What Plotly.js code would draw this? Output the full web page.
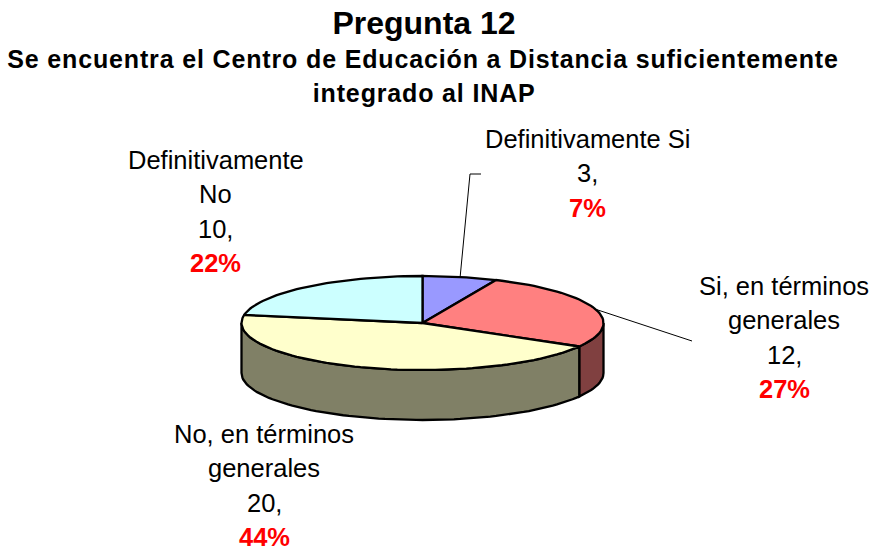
<!DOCTYPE html>
<html><head><meta charset="utf-8">
<script src="https://cdn.plot.ly/plotly-3.0.1.min.js"></script>
<style>html,body{margin:0;padding:0;background:#fff}</style></head>
<body><div id="chart" style="width:874px;height:552px"></div>
<script>
const categories = ["Definitivamente Si", "Si, en términos generales", "No, en términos generales", "Definitivamente No"];
const values = [3, 12, 20, 10];
const topColors = ["#9999FF", "#FF8080", "#FFFFCC", "#CCFFFF"];
const sideColors = ["#4D4D80", "#804040", "#808066", "#668080"];
const labelLines = [["Definitivamente Si"], ["Si, en términos", "generales"], ["No, en términos", "generales"], ["Definitivamente", "No"]];
const labelCenterX = [587.5, 784, 264, 215.5];
const labelFirstY = [139, 286, 434, 160];
const titleText = "Pregunta 12";
const subtitleLines = ["Se encuentra el Centro de Educación a Distancia suficientemente", "integrado al INAP"];

const cx = 422.5, cy = 323, rx = 181, ry = 47, depth = 50, lineStep = 34.4;
const total = values.reduce((a, b) => a + b, 0);
const pt = (deg, dy = 0) => {
  const r = deg * Math.PI / 180;
  return [cx + rx * Math.sin(r), cy - ry * Math.cos(r) + dy];
};
const arc = (a, b, dy = 0) => {
  const out = [];
  const n = Math.max(2, Math.ceil(Math.abs(b - a) / 2));
  for (let i = 0; i <= n; i++) out.push(pt(a + (b - a) * i / n, dy));
  return out;
};
const poly = (pts, fill) => ({
  type: "scatter", mode: "lines", x: pts.map(p => p[0]), y: pts.map(p => p[1]),
  fill: "toself", fillcolor: fill, line: { color: "#000", width: 2.3 }, hoverinfo: "skip", showlegend: false
});
const leader = (pts) => ({
  type: "scatter", mode: "lines", x: pts.map(p => p[0]), y: pts.map(p => p[1]),
  line: { color: "#000", width: 1 }, hoverinfo: "skip", showlegend: false
});

const traces = [];
let acc = 0;
const spans = values.map(v => { const s = [acc, acc + v / total * 360]; acc = s[1]; return s; });
spans.forEach((s, i) => {
  const a = Math.max(s[0], 90), b = Math.min(s[1], 270);
  if (b > a) {
    const outer = arc(a, b), lower = arc(b, a, depth);
    traces.push(poly([...outer, ...lower, outer[0]], sideColors[i]));
  }
});
spans.forEach((s, i) => {
  traces.push(poly([[cx, cy], ...arc(s[0], s[1]), [cx, cy]], topColors[i]));
});
traces.unshift(leader([pt(12), [470, 174], [481, 174]]));
traces.unshift(leader([pt(73), [692, 341]]));

const ann = [];
const line = (text, x, y, color, size, bold) => ann.push({
  xref: "x", yref: "y", x, y, text: bold ? "<b>" + text + "</b>" : text, showarrow: false,
  xanchor: "center", yanchor: "middle",
  font: { family: "Liberation Sans, Arial, sans-serif", size, color }
});
categories.forEach((c, i) => {
  let y = labelFirstY[i];
  const rows = [...labelLines[i], values[i] + ","];
  rows.forEach(r => { line(r, labelCenterX[i], y, "#000", 25.5, false); y += lineStep; });
  line(Math.round(values[i] / total * 100) + "%", labelCenterX[i], y, "#FF0000", 25.5, true);
});
line(subtitleLines[0], 423, 59, "#000", 25, true);
line(subtitleLines[1], 424, 93, "#000", 25, true);

const hidden = { visible: false, fixedrange: true };
Plotly.newPlot("chart", traces, {
  width: 874, height: 552, margin: { l: 0, r: 0, t: 0, b: 0 },
  paper_bgcolor: "#fff", plot_bgcolor: "#fff", showlegend: false,
  title: { text: "<b>" + titleText + "</b>", x: 424 / 874, xanchor: "center", y: 1 - 23 / 552, yanchor: "middle", yref: "container",
    font: { family: "Liberation Sans, Arial, sans-serif", size: 32, color: "#000" } },
  xaxis: { ...hidden, range: [0, 874] },
  yaxis: { ...hidden, range: [552, 0] },
  annotations: ann
}, { displayModeBar: false, staticPlot: true }).then(gd => {
  gd.querySelectorAll(".annotation-text").forEach(t => {
    if (subtitleLines.includes(t.textContent)) t.style.letterSpacing = "0.85px";
  });
});
</script></body></html>
